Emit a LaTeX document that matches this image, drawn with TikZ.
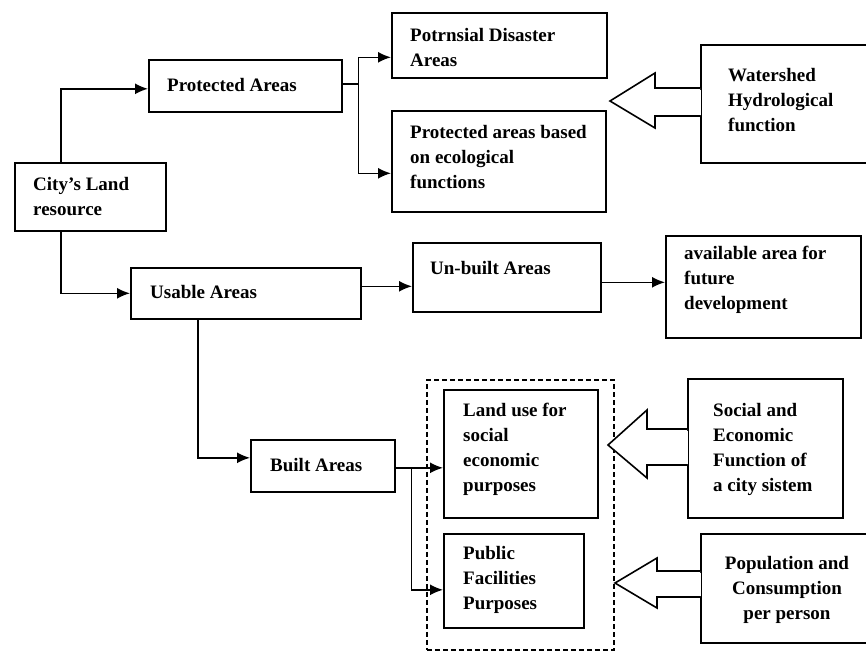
\documentclass[tikz,border=0pt]{standalone}
\usepackage{fontspec}
\setmainfont{Liberation Serif}
\usetikzlibrary{arrows.meta}
\begin{document}
\begin{tikzpicture}[x=1pt,y=-1pt,
  box/.style={draw, line width=1.6pt, inner sep=0pt, anchor=north west},
  txt/.style={font=\fontsize{19}{25}\selectfont\bfseries, align=left, inner sep=0pt, anchor=west},
  conn/.style={line width=1.6pt, -{Latex[length=13pt,width=11pt]}},
  plain/.style={line width=1.6pt},
  block/.style={draw, line width=1.6pt, fill=white, line join=miter},
  gap/.style={draw=white, line width=2.5pt}]
\useasboundingbox (0,0) rectangle (866,651);

% boxes
\node[box, minimum width=151pt, minimum height=68pt] (city) at (14,162) {};
\node[txt] (city-t) at (33,197) {City's Land\\resource};
\node[box, minimum width=193pt, minimum height=52pt] (prot) at (148,59) {};
\node[txt] (prot-t) at (167,85) {Protected Areas};
\node[box, minimum width=215pt, minimum height=65pt] (potdis) at (391,12) {};
\node[txt] (potdis-t) at (410,47.5) {Potrnsial Disaster\\Areas};
\node[box, minimum width=214pt, minimum height=101pt] (proteco) at (391,110) {};
\node[txt] (proteco-t) at (410,157) {Protected areas based\\on ecological\\functions};
\node[box, minimum width=180pt, minimum height=118pt] (ws) at (700,44) {};
\node[txt] (ws-t) at (728,100) {Watershed\\Hydrological\\function};
\node[box, minimum width=230pt, minimum height=51pt] (usable) at (130,267) {};
\node[txt] (usable-t) at (150,292) {Usable Areas};
\node[box, minimum width=188pt, minimum height=69pt] (unbuilt) at (412,242) {};
\node[txt] (unbuilt-t) at (430,268) {Un-built Areas};
\node[box, minimum width=195pt, minimum height=102pt] (avail) at (665,235) {};
\node[txt] (avail-t) at (684,280) {available area for\\future\\development};
\node[box, minimum width=144pt, minimum height=52pt] (built) at (250,439) {};
\node[txt] (built-t) at (270,465) {Built Areas};
\node[box, minimum width=154pt, minimum height=128pt] (landuse) at (443,389) {};
\node[txt] (landuse-t) at (463,449.5) {Land use for\\social\\economic\\purposes};
\node[box, minimum width=140pt, minimum height=94pt] (public) at (443,533) {};
\node[txt] (public-t) at (463,580) {Public\\Facilities\\Purposes};
\node[box, minimum width=155pt, minimum height=139pt] (social) at (687,378) {};
\node[txt] (social-t) at (713,449) {Social and\\Economic\\Function of\\a city sistem};
\node[box, minimum width=180pt, minimum height=109pt] (pop) at (700,533) {};
\node[txt, align=center, anchor=center] (pop-t) at (787,590) {Population and\\Consumption\\per person};

% dashed group
\node[box, dashed, dash pattern=on 5pt off 3pt, minimum width=187pt, minimum height=270pt] (group) at (426,379) {};

% connectors
\draw[conn] ([xshift=47pt]city.north west) |- ([yshift=-3pt]prot.west);
\draw[conn] ([xshift=47pt]city.south west) |- (usable.west);
\draw[plain] ([yshift=2pt]prot.east) -- ++(16,0) coordinate (pj);
\draw[conn] (pj) |- ([yshift=-12pt]potdis.west);
\draw[conn] (pj) |- ([yshift=-12pt]proteco.west);
\draw[conn] ([yshift=7pt]usable.east) -- ([yshift=7pt]usable.east -| unbuilt.west);
\draw[conn] ([yshift=-5pt]unbuilt.east) -- ([yshift=-5pt]unbuilt.east -| avail.west);
\draw[conn] ([xshift=68pt]usable.south west) |- ([yshift=8pt]built.west);
\draw[conn] ([yshift=-2pt]built.east) -- ([yshift=-2pt]built.east -| landuse.west);
\draw[plain] ([yshift=-2pt]built.east) -- ++(16,0) coordinate (bj);
\draw[conn] (bj) |- ([yshift=-9pt]public.west);

% block arrows
\draw[gap] (700,89.5) -- (700,114.5);
\draw[block] (700,88) -- (655,88) -- (655,73) -- (610,101) -- (655,128) -- (655,116) -- (700,116);
\draw[gap] (687,430.5) -- (687,463.5);
\draw[block] (687,429) -- (647,429) -- (647,410) -- (608,445) -- (647,478) -- (647,465) -- (687,465);
\draw[gap] (700,572.5) -- (700,595.5);
\draw[block] (700,571) -- (657,571) -- (657,558) -- (615,583) -- (657,608) -- (657,597) -- (700,597);
\end{tikzpicture}
\end{document}
